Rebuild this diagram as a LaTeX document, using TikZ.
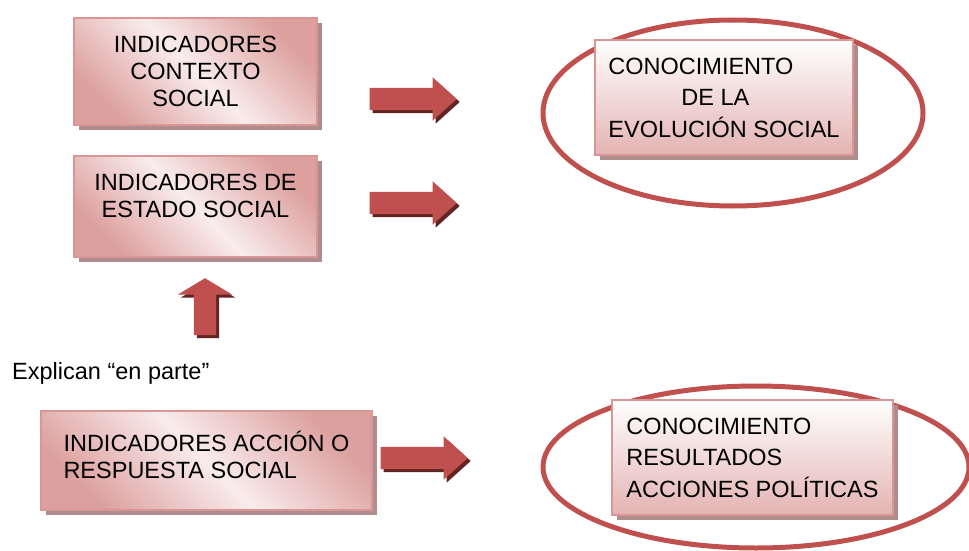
\documentclass[tikz,border=0pt]{standalone}
\usepackage{fontspec}
\setmainfont{Liberation Sans}
\usetikzlibrary{shapes.geometric,shapes.arrows,shadows,positioning}
\usepackage{xcolor}

\definecolor{boxline}{RGB}{217,150,148}
\definecolor{boxdark}{RGB}{220,160,158}
\definecolor{boxlight}{RGB}{249,236,236}
\definecolor{boxshadow}{RGB}{176,140,140}
\definecolor{arrowred}{RGB}{192,80,77}
\definecolor{arrowshadow}{RGB}{99,37,35}

\tikzset{
  box/.style={rectangle, draw=boxline, line width=1.5pt, inner sep=0pt,
    font=\fontsize{23.5}{27}\selectfont,
    drop shadow={shadow xshift=5pt, shadow yshift=-5pt, fill=boxshadow, opacity=1}},
  diagbox/.style={box, align=center, left color=boxdark, right color=boxdark,
    middle color=boxlight, shading angle=135},
  fadebox/.style={box, align=left, font=\fontsize{23.5}{31.5}\selectfont,
    top color=white, bottom color=boxdark!80!white},
  blockarrow/.style={single arrow, draw=none, single arrow head indent=0pt,
    fill=arrowred,
    drop shadow={shadow xshift=3pt, shadow yshift=-3pt, fill=arrowshadow, opacity=1}},
  rightarrow/.style={blockarrow, inner xsep=0pt, inner ysep=11pt,
    minimum height=87pt, minimum width=43pt,
    single arrow head extend=10.5pt, single arrow tip angle=84},
  uparrow/.style={blockarrow, shape border rotate=90, inner xsep=11pt, inner ysep=0pt,
    minimum height=57pt, minimum width=54pt, single arrow head extend=16pt,
    single arrow tip angle=118},
  ring/.style={ellipse, draw=arrowred, line width=5pt}
}

\begin{document}
\begin{tikzpicture}[x=1pt, y=-1pt]
    \useasboundingbox (0,0) rectangle (969,551);

    % Ellipses
    \node[ring, minimum width=380pt, minimum height=186pt] (ringevo) at (733,113) {};
    \node[ring, minimum width=426pt, minimum height=162pt] (ringres) at (756,467) {};

    % Indicator boxes
    \node[diagbox, minimum width=243pt, minimum height=107pt] (ctx) at (195.5,71.5)
        {INDICADORES\\CONTEXTO\\SOCIAL};
    \node[diagbox, minimum width=243pt, minimum height=101pt, text depth=21pt] (est)
        at (195.5,206.5) {INDICADORES DE\\ESTADO SOCIAL};
    \node[diagbox, align=left, minimum width=331pt, minimum height=99pt, text depth=12pt]
        (acc) at (206.5,460.5) {INDICADORES ACCIÓN O\\RESPUESTA SOCIAL};

    % Knowledge boxes
    \node[fadebox, minimum width=258pt, minimum height=115pt] (evo) at (724,97.5)
        {CONOCIMIENTO\\\hspace*{73pt}DE LA\\EVOLUCIÓN SOCIAL};
    \node[fadebox, minimum width=281pt, minimum height=115pt] (res) at (752.5,457.5)
        {CONOCIMIENTO\\RESULTADOS\\ACCIONES POLÍTICAS};

    % Block arrows
    \node[rightarrow, anchor=tip] (arrctx) at (457,99) {};
    \node[rightarrow, anchor=tip] (arrest) at (457,203) {};
    \node[rightarrow, anchor=tip] (arracc) at (468,458) {};
    \node[uparrow, anchor=tip] (arrup) at (205,278) {};

    \node[anchor=west, inner sep=0pt, font=\fontsize{23.5}{27}\selectfont] (expl)
        at (12,373) {Explican “en parte”};
\end{tikzpicture}
\end{document}
